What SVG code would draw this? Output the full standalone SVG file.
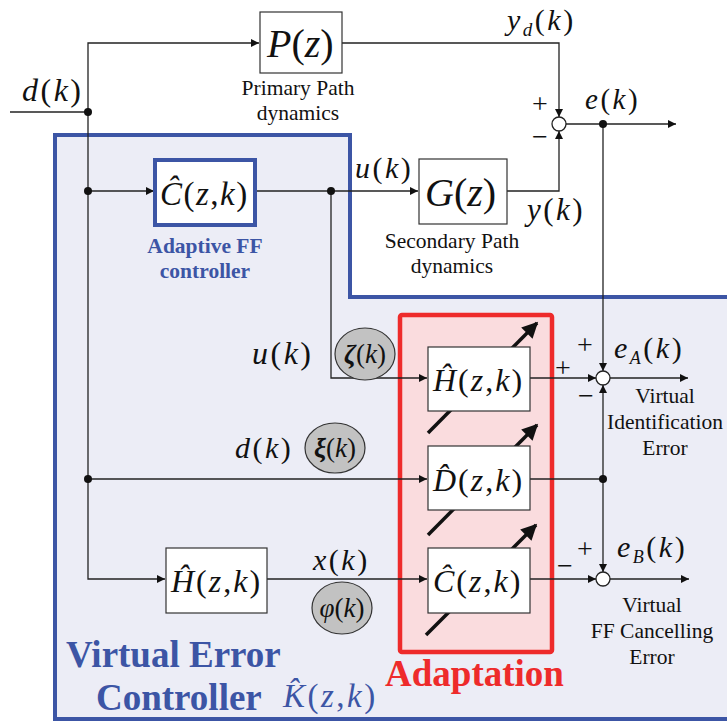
<svg xmlns="http://www.w3.org/2000/svg" width="727" height="723" viewBox="0 0 727 723">
<defs>
<style>
.m{font-family:"Liberation Serif","DejaVu Serif",serif;fill:#111}
.l{letter-spacing:2.5px}
.i{font-style:italic}
.ln{fill:none;stroke:#222;stroke-width:1.3}
.box{fill:#fff;stroke:#333;stroke-width:1.2}
.ell{fill:#c2c2c2;stroke:#333;stroke-width:1.2}
.dot{fill:#111}
.sum{fill:#fff;stroke:#222;stroke-width:1.3}
.cap{font-family:"Liberation Serif","DejaVu Serif",serif;font-size:21.5px;fill:#111;text-anchor:middle}
.bt{font-family:"Liberation Serif","DejaVu Serif",serif;font-weight:bold}
.pm{font-family:"Liberation Serif","DejaVu Serif",serif;font-size:28px;fill:#111;text-anchor:middle}
.diag{stroke:#111;stroke-width:3.5;fill:none}
</style>
<marker id="ah" viewBox="0 0 10 10" refX="10" refY="5" markerWidth="10" markerHeight="8" markerUnits="userSpaceOnUse" orient="auto"><path d="M0,0 L10,5 L0,10 z" fill="#111"/></marker>
<marker id="bh" viewBox="0 0 10 10" refX="9" refY="5" markerWidth="18" markerHeight="16" markerUnits="userSpaceOnUse" orient="auto"><path d="M0,0 L10,5 L0,10 z" fill="#111"/></marker>
</defs>
<rect x="0" y="0" width="727" height="723" fill="#fff"/>
<g id="virtual-error-controller">
<polygon points="55,135 350,135 350,297 731,297 731,719 55,719" fill="#ecedf6" stroke="#3c55a5" stroke-width="4"/>
<text x="66" y="667" class="bt" font-size="37" fill="#3c55a5">Virtual Error</text>
<text x="96" y="710" class="bt" font-size="37" fill="#3c55a5">Controller</text>
<text x="283" y="707" class="m l" font-size="33" style="fill:#3c55a5"><tspan class="i">K̂</tspan>(<tspan class="i">z</tspan>,<tspan class="i">k</tspan>)</text>
</g>
<g id="adaptation">
<rect x="400" y="315" width="152" height="337" fill="#fadcde" stroke="#ee2b2b" stroke-width="4.5" rx="2"/>
<text x="385" y="686" class="bt" font-size="37" fill="#ee2b2b">Adaptation</text>
</g>
<g id="connectors">
<path class="ln" d="M10,112 H88"/>
<path class="ln" d="M88,112 V43 H259" marker-end="url(#ah)"/>
<path class="ln" d="M88,112 V579 H165" marker-end="url(#ah)"/>
<path class="ln" d="M88,191 H154" marker-end="url(#ah)"/>
<path class="ln" d="M257,191 H418" marker-end="url(#ah)"/>
<path class="ln" d="M331,191 V378 H427" marker-end="url(#ah)"/>
<path class="ln" d="M88,479 H427" marker-end="url(#ah)"/>
<path class="ln" d="M267,579 H427" marker-end="url(#ah)"/>
<path class="ln" d="M342,43 H559 V117" marker-end="url(#ah)"/>
<path class="ln" d="M507,191 H559 V131" marker-end="url(#ah)"/>
<path class="ln" d="M566,124 H676" marker-end="url(#ah)"/>
<path class="ln" d="M603,124 V371" marker-end="url(#ah)"/>
<path class="ln" d="M530,378 H596" marker-end="url(#ah)"/>
<path class="ln" d="M610,378 H688" marker-end="url(#ah)"/>
<path class="ln" d="M530,479 H603"/>
<path class="ln" d="M603,479 V385" marker-end="url(#ah)"/>
<path class="ln" d="M603,479 V572" marker-end="url(#ah)"/>
<path class="ln" d="M530,579 H596" marker-end="url(#ah)"/>
<path class="ln" d="M610,579 H689" marker-end="url(#ah)"/>
<circle class="dot" cx="88" cy="112" r="4"/>
<circle class="dot" cx="88" cy="191" r="4"/>
<circle class="dot" cx="88" cy="479" r="4"/>
<circle class="dot" cx="331" cy="191" r="4"/>
<circle class="dot" cx="603" cy="124" r="4"/>
<circle class="dot" cx="603" cy="479" r="4"/>
<path class="diag" d="M428,433 L537,323" marker-end="url(#bh)"/>
<path class="diag" d="M428,535 L537,425" marker-end="url(#bh)"/>
<path class="diag" d="M426,635 L536,525" marker-end="url(#bh)"/>
</g>
<g id="labels">
<text x="22" y="101" class="m l" font-size="32"><tspan class="i">d</tspan>(<tspan class="i">k</tspan>)</text>
<text x="507" y="30" class="m l" font-size="30"><tspan class="i">y</tspan><tspan class="i" font-size="19" dy="6">d</tspan><tspan dy="-6">(</tspan><tspan class="i">k</tspan>)</text>
<text x="585" y="109" class="m l" font-size="29"><tspan class="i">e</tspan>(<tspan class="i">k</tspan>)</text>
<text x="355" y="178" class="m l" font-size="30"><tspan class="i">u</tspan>(<tspan class="i">k</tspan>)</text>
<text x="527" y="220" class="m l" font-size="31"><tspan class="i">y</tspan>(<tspan class="i">k</tspan>)</text>
<text x="252" y="364" class="m l" font-size="32"><tspan class="i">u</tspan>(<tspan class="i">k</tspan>)</text>
<text x="235" y="458" class="m l" font-size="30"><tspan class="i">d</tspan>(<tspan class="i">k</tspan>)</text>
<text x="313" y="570" class="m l" font-size="30"><tspan class="i">x</tspan>(<tspan class="i">k</tspan>)</text>
<text x="614" y="358" class="m l" font-size="30"><tspan class="i">e</tspan><tspan class="i" font-size="18" dy="6">A</tspan><tspan dy="-6">(</tspan><tspan class="i">k</tspan>)</text>
<text x="617" y="557" class="m l" font-size="30"><tspan class="i">e</tspan><tspan class="i" font-size="18" dy="6">B</tspan><tspan dy="-6">(</tspan><tspan class="i">k</tspan>)</text>
<text x="540" y="113" class="pm">+</text>
<text x="540" y="146" class="pm">−</text>
<text x="585" y="354" class="pm">+</text>
<text x="563" y="377" class="pm">+</text>
<text x="586" y="405" class="pm">−</text>
<text x="585" y="558" class="pm">+</text>
<text x="565" y="575" class="pm">−</text>
<text class="cap" x="298" y="95">Primary Path</text>
<text class="cap" x="298" y="120">dynamics</text>
<text class="cap" x="452" y="248">Secondary Path</text>
<text class="cap" x="452" y="273">dynamics</text>
<text class="cap" x="665" y="403">Virtual</text>
<text class="cap" x="665" y="429">Identification</text>
<text class="cap" x="665" y="455">Error</text>
<text class="cap" x="652" y="612">Virtual</text>
<text class="cap" x="652" y="638">FF Cancelling</text>
<text class="cap" x="652" y="664">Error</text>
</g>
<g id="sum-top"><circle class="sum" cx="559" cy="124" r="7"/></g>
<g id="sum-a"><circle class="sum" cx="603" cy="378" r="7"/></g>
<g id="sum-b"><circle class="sum" cx="603" cy="579" r="7"/></g>
<g id="P">
<rect class="box" x="260" y="12" width="82" height="61"/>
<text x="267" y="57" class="m" font-size="40"><tspan class="i">P</tspan>(<tspan class="i">z</tspan>)</text>
</g>
<g id="G">
<rect class="box" x="419" y="159" width="88" height="65"/>
<text x="425" y="206" class="m" font-size="40"><tspan class="i">G</tspan>(<tspan class="i">z</tspan>)</text>
</g>
<g id="C-ff">
<rect x="155" y="160" width="100" height="65" fill="#fff" stroke="#3c55a5" stroke-width="4"/>
<text x="160" y="205" class="m" font-size="33" letter-spacing="1.5"><tspan class="i">Ĉ</tspan>(<tspan class="i">z</tspan>,<tspan class="i">k</tspan>)</text>
<text x="205" y="253" class="bt" font-size="21.5" fill="#3c55a5" text-anchor="middle">Adaptive FF</text>
<text x="205" y="278" class="bt" font-size="21.5" fill="#3c55a5" text-anchor="middle">controller</text>
</g>
<g id="zeta"><ellipse class="ell" cx="365" cy="354" rx="30" ry="26"/><text x="365" y="363" class="m" font-size="27" text-anchor="middle"><tspan class="i" font-weight="bold">ζ</tspan>(<tspan class="i">k</tspan>)</text></g>
<g id="xi"><ellipse class="ell" cx="335" cy="448" rx="30" ry="25"/><text x="335" y="457" class="m" font-size="27" text-anchor="middle"><tspan class="i" font-weight="bold">ξ</tspan>(<tspan class="i">k</tspan>)</text></g>
<g id="phi"><ellipse class="ell" cx="342" cy="608" rx="30" ry="26"/><text x="342" y="617" class="m" font-size="27" text-anchor="middle"><tspan class="i">φ</tspan>(<tspan class="i">k</tspan>)</text></g>
<g id="H-adapt">
<rect class="box" x="428" y="347" width="102" height="64"/>
<text x="433" y="391" class="m" font-size="32" letter-spacing="2"><tspan class="i">Ĥ</tspan>(<tspan class="i">z</tspan>,<tspan class="i">k</tspan>)</text>
</g>
<g id="D-adapt">
<rect class="box" x="428" y="446" width="102" height="64"/>
<text x="433" y="491" class="m" font-size="32" letter-spacing="2"><tspan class="i">D̂</tspan>(<tspan class="i">z</tspan>,<tspan class="i">k</tspan>)</text>
</g>
<g id="C-adapt">
<rect class="box" x="428" y="548" width="102" height="65"/>
<text x="433" y="592" class="m" font-size="32" letter-spacing="2"><tspan class="i">Ĉ</tspan>(<tspan class="i">z</tspan>,<tspan class="i">k</tspan>)</text>
</g>
<g id="H-model">
<rect class="box" x="166" y="548" width="101" height="65"/>
<text x="171" y="592" class="m" font-size="32" letter-spacing="2"><tspan class="i">Ĥ</tspan>(<tspan class="i">z</tspan>,<tspan class="i">k</tspan>)</text>
</g>
</svg>
